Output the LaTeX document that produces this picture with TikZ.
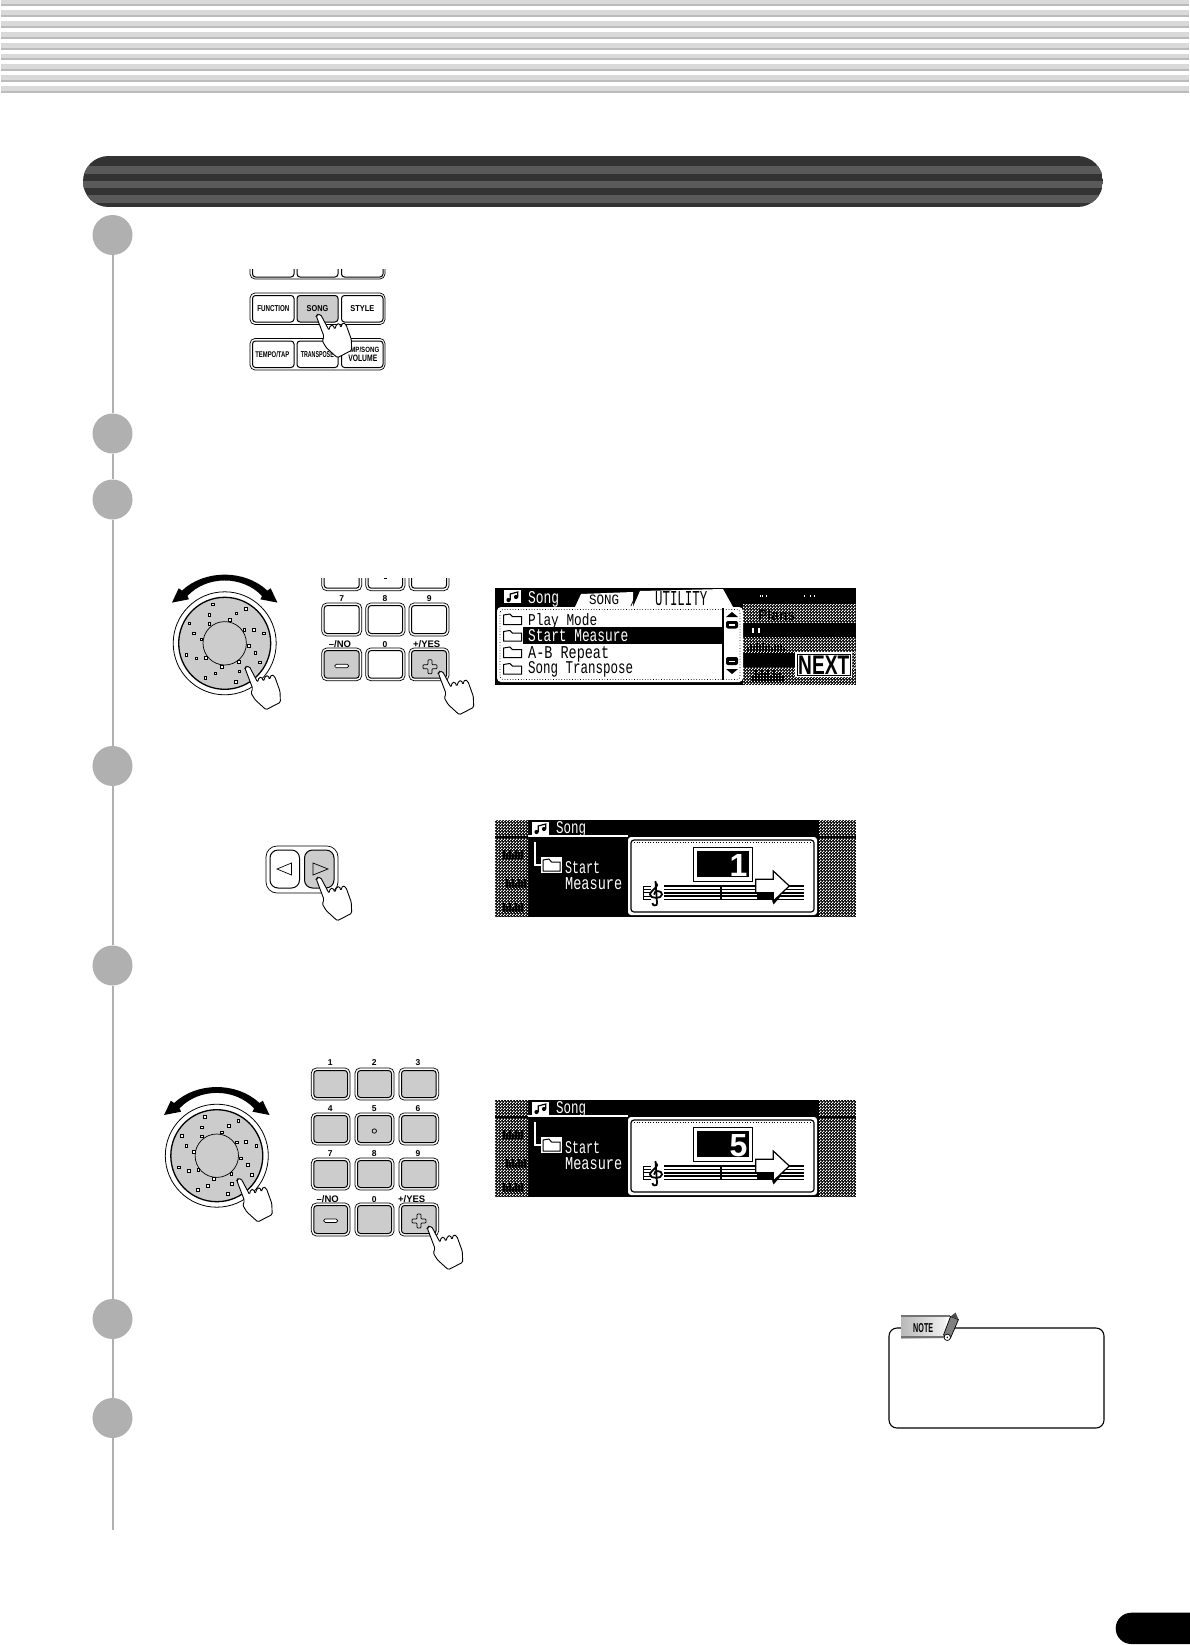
\documentclass[tikz,border=0pt]{standalone}
\usepackage{fontspec}
\usepackage{graphicx}
\setmainfont{Liberation Sans}
\setmonofont{Liberation Mono}
\usetikzlibrary{patterns}
\pgfdeclarepatternformonly{scrdither}{\pgfpointorigin}{\pgfqpoint{2.66pt}{2.66pt}}{\pgfqpoint{2.66pt}{2.66pt}}{%
  \pgfpathrectangle{\pgfpointorigin}{\pgfqpoint{1.33pt}{1.33pt}}%
  \pgfpathrectangle{\pgfqpoint{1.33pt}{1.33pt}}{\pgfqpoint{1.33pt}{1.33pt}}%
  \pgfusepath{fill}}
\definecolor{barlight}{HTML}{D9D9D9}
\definecolor{barshade}{HTML}{BBBBBB}
\definecolor{titledark}{HTML}{333333}
\definecolor{titlegrey}{HTML}{5A5A5A}
\definecolor{stepgrey}{HTML}{B0B0B0}
\definecolor{keygrey}{HTML}{CCCCCC}
\tikzset{
  stepdot/.style={circle,fill=stepgrey,draw=none,minimum size=40pt,inner sep=0pt},
  stemline/.style={draw=stepgrey,line width=2pt},
  keyouter/.style={draw=black,line width=.7pt,fill=white,rounded corners=5pt},
  keyinner/.style={draw=black,line width=1pt,rounded corners=3pt},
  handline/.style={draw=black,line width=.9pt,fill=white,rounded corners=1.3pt},
  keylabel/.style={font=\fontsize{#1}{#1}\selectfont\bfseries,inner sep=0pt,text=black},
  keylabel/.default=8.5,
  capslabel/.style={inner sep=0pt,text=black,font=\bfseries},
  scrlabel/.style={anchor=base west,inner sep=0pt},
  scrright/.style={anchor=base east,inner sep=0pt},
  thinkey/.style={draw=black,line width=.7pt},
}
\newcommand\keycap[5]{%
  \draw[keyouter] (#1,#2) rectangle (#3,#4);
  \draw[keyinner,fill=#5] (#1+2.5,#2+2.5) rectangle (#3-2.5,#4-2.5);}
\newcommand\panelkey[5]{\draw[keyinner,fill=#5] (#1,#2) rectangle (#3,#4);}
\newcommand\handat[2]{%
  \begin{scope}[shift={(#1,#2)}]
    \draw[handline] (-1.7,1.2) -- (-.6,-.4) -- (2.7,-.4) -- (11,15.3) -- (12.2,10.5) -- (15,10) -- (16.7,14.3)
      -- (18.8,9) -- (21.7,8.5) -- (22.7,12.7) -- (24.8,7.5) -- (28,9.5) -- (33.3,24.3) -- (33.7,35.3)
      -- (19.3,42.7) -- (8.3,32.7) -- (4.3,26) -- (6,21.5) -- cycle;
  \end{scope}}
\newcommand\minussign[2]{\draw[thinkey,fill=white,rounded corners=1.5pt] (#1-7,#2-1.7) rectangle (#1+7,#2+1.7);}
\newcommand\plussign[2]{\draw[thinkey,fill=keygrey,rounded corners=.8pt]
  (#1-2,#2-7) -- (#1+2,#2-7) -- (#1+2,#2-2) -- (#1+7,#2-2) -- (#1+7,#2+2) -- (#1+2,#2+2) -- (#1+2,#2+7)
  -- (#1-2,#2+7) -- (#1-2,#2+2) -- (#1-7,#2+2) -- (#1-7,#2-2) -- (#1-2,#2-2) -- cycle;}
\newcommand\jogdial[2]{%
  \begin{scope}[shift={(#1,#2)}]
    \fill[black] (-52.7,-40.7) -- (-46,-55) -- (-42.7,-52.7) .. controls (-20,-74) and (20,-74) .. (42.7,-52.7)
       -- (46,-55) -- (52.7,-40.7) -- (35.7,-44) -- (37.3,-47.3) .. controls (18,-68) and (-18,-68) .. (-37.3,-47.3)
       -- (-35.7,-44) -- cycle;
    \draw[black,line width=.8pt,fill=white] (0,0) circle (51.5);
    \draw[black,line width=1.3pt,fill=keygrey] (0,0) circle (46);
    \draw[black,line width=.7pt,fill=keygrey] (0,0) circle (21.7);
    \foreach \dx/\dy in {217/133,207/165,288/160,317/146,147/190,207/192,268/180,161/220,312/210,340/209,371/220,183/238,325/258,345/278,138/285,168/295,197/293,296/305,358/307,244/320,297/334,225/340,195/353,286/365}{
      \draw[black,line width=.5pt,fill=white] ({(\dx-253)/3-1.3},{(\dy-250)/3-1.3}) rectangle ({(\dx-253)/3+1.3},{(\dy-250)/3+1.3});
    }
  \end{scope}}
\newcommand\scrdith[4]{%
  \fill[pattern=scrdither,pattern color=white] (#1,#2) rectangle (#3,#4);}
\newcommand\scrtext[6]{\node[scrlabel,text=#5] (#1) at (#2,#3) {\resizebox{#4pt}{12pt}{\ttfamily #6}};}
\newcommand\scrcaps[7]{\node[scrlabel,text=#6] (#1) at (#2,#3) {\resizebox{#4pt}{#5pt}{#7}};}
\newcommand\folderglyph[5]{% x y w h fill
  \draw[black,line width=1pt,fill=#5] (#1,#2+#4) -- (#1,#2+1) -- (#1+.35*#3,#2) -- (#1+.5*#3,#2+.25*#4) -- (#1+#3,#2+.25*#4) -- (#1+#3,#2+#4) -- cycle;}
\newcommand\noteglyph[2]{%
  \fill[white] (#1,#2) rectangle (#1+17,#2+13);
  \fill[black] (#1+4.5,#2+10) circle (2.1);
  \fill[black] (#1+12,#2+7) circle (2.1);
  \draw[black,line width=1.2pt] (#1+6.2,#2+10) -- (#1+6.2,#2+4) -- (#1+13.7,#2+2) -- (#1+13.7,#2+7);}
\newcommand\garblemarks[2]{%
  \foreach \gx/\gh in {0/9,3/6,6/9,9/5,12/9,15/7,18/9}{
    \fill[black] (#1+\gx,#2+9-\gh) rectangle (#1+\gx+1.8,#2+9);
  }}
\newcommand\statusscreen[3]{%
  \begin{scope}[shift={(0,#1)}]
    \fill[black] (495,1100) rectangle (856,1197);
    \scrdith{495}{1100}{528}{1115}
    \scrdith{495}{1118}{528}{1197}
    \scrdith{819}{1100}{856}{1115}
    \scrdith{819}{1118}{856}{1197}
    \garblemarks{503}{1130}
    \garblemarks{506}{1159}
    \garblemarks{503}{1183}
    \noteglyph{532}{1102}
    \scrtext{#3song}{556}{1113.5}{30}{white}{Song}
    \draw[white,line width=1.3pt] (528,1116) -- (628,1116);
    \draw[white,line width=1.2pt] (535,1122) -- (535,1145) -- (541,1145);
    \fill[white] (541,1136.5) rectangle (562,1153);
    \folderglyph{543}{1139}{17}{12}{white}
    \scrtext{#3start}{565}{1153.3}{35}{white}{Start}
    \scrtext{#3measure}{565}{1169.3}{57}{white}{Measure}
    \fill[white,rounded corners=3pt] (628,1117) rectangle (817,1195);
    \draw[black,line width=1.2pt,rounded corners=3pt] (631,1120) rectangle (814,1192);
    \draw[black,line width=.7pt,dotted] (634,1122.5) -- (811,1122.5);
    \draw[black,line width=.7pt] (693,1127) rectangle (752,1161);
    \fill[black] (697,1131) rectangle (749,1157);
    \node[scrright,text=white,font=\fontsize{32}{32}\selectfont\bfseries] (#3digit) at (747.5,1156) {#2};
    % staff
    \foreach \sy in {1166,1169.3,1172.7,1176,1179.3}{
      \draw[black,line width=1.6pt] (664,\sy) -- (804,\sy);
      \draw[black,line width=1pt] (643,\sy) -- (651,\sy);
    }
    \draw[black,line width=1pt] (643,1166) -- (643,1179.3);
    \draw[black,line width=1.2pt] (721,1166) -- (721,1179.3);
    \draw[black,line width=1.8pt] (655.5,1161) -- (657,1183) .. controls (657.5,1186.5) and (652,1186) .. (652.5,1183);
    \draw[black,line width=1.8pt] (656,1163) .. controls (661,1165) and (650,1171) .. (650,1174.5)
       .. controls (650,1179) and (662,1179) .. (662,1174.5) .. controls (662,1170) and (654,1170) .. (654,1174.5);
    % arrow
    \fill[black] (757,1172.7) rectangle (775,1180);
    \fill[black] (771,1176) -- (781,1176) -- (773.5,1184.5) -- cycle;
    \draw[black,line width=1.2pt,fill=white] (755.7,1159.3) -- (773.3,1159.3) -- (773.3,1151) -- (789.3,1166)
      -- (773.3,1181) -- (773.3,1172.7) -- (755.7,1172.7) -- cycle;
  \end{scope}}
\begin{document}
\begin{tikzpicture}[x=1pt,y=-1pt]
\useasboundingbox (0,0) rectangle (1189,1645);
% top stripes
\foreach \ya/\yb in {0/6,10/17,21/28,32/39,43/50,54/60,64/71,75/82,86/93}{
  \fill[barlight] (1,\ya) rectangle (1189,\yb-2);
  \fill[barshade] (1,\yb-2) rectangle (1189,\yb);
}
% title bar
\begin{scope}
  \clip[rounded corners=25.4pt] (83,156) rectangle (1103,207);
  \fill[titledark] (83,156) rectangle (1103,207);
  \foreach \ya/\yb in {166/174,181/188,195/203}{
    \fill[titlegrey] (83,\ya) rectangle (1103,\yb);
  }
\end{scope}
% steps
\node[stepdot] (s1) at (112.5,235) {};
\node[stepdot] (s2) at (112.5,433.5) {};
\node[stepdot] (s3) at (112.5,499.5) {};
\node[stepdot] (s4) at (112.5,766) {};
\node[stepdot] (s5) at (112.5,965.5) {};
\node[stepdot] (s6) at (112.5,1319) {};
\node[stepdot] (s7) at (112.5,1418) {};
\coordinate (stemend) at (112.5,1530);
\draw[stemline] (s1) -- (s2);
\draw[stemline] (s2) -- (s3);
\draw[stemline] (s3) -- (s4);
\draw[stemline] (s4) -- (s5);
\draw[stemline] (s5) -- (s6);
\draw[stemline] (s6) -- (s7);
\draw[stemline] (s7) -- (stemend);
% song button group
\begin{scope}
  \clip (245,269.5) rectangle (390,285);
  \draw[keyouter] (250,245) rectangle (385,279);
  \panelkey{252.5}{245}{294}{277}{white}
  \panelkey{297}{245}{338}{277}{white}
  \panelkey{341.5}{245}{383}{277}{white}
\end{scope}
\draw[keyouter] (250,293) rectangle (385,324.5);
\panelkey{252.5}{295.5}{294}{322}{white}
\panelkey{297}{295.5}{338}{322}{keygrey}
\panelkey{341.5}{295.5}{383}{322}{white}
\node[capslabel] (lfunction) at (273.3,308.5) {\resizebox{32pt}{6pt}{FUNCTION}};
\node[capslabel] (lsong) at (317.5,308.5) {\resizebox{21.7pt}{6pt}{SONG}};
\node[capslabel] (lstyle) at (362.3,308.5) {\resizebox{24pt}{6pt}{STYLE}};
\draw[keyouter] (250,338.5) rectangle (385,370);
\panelkey{252.5}{341}{294}{367.5}{white}
\panelkey{297}{341}{338}{367.5}{white}
\panelkey{341.5}{341}{383}{367.5}{white}
\node[capslabel] (ltempo) at (272.3,354.5) {\resizebox{34pt}{6pt}{TEMPO/TAP}};
\node[capslabel] (ltranspose) at (317.3,354.5) {\resizebox{33pt}{6pt}{TRANSPOSE}};
\node[capslabel,anchor=east] (lamp) at (379.5,349.5) {\resizebox{29pt}{5.5pt}{MP/SONG}};
\node[capslabel,anchor=east] (lvolume) at (377.5,358.5) {\resizebox{29pt}{6.5pt}{VOLUME}};
\handat{318}{315}
% dial 1 and keys
\jogdial{224.7}{643.3}
\handat{246.7}{667}
\begin{scope}
  \clip (315,578) rectangle (455,595);
  \keycap{321.7}{555}{361.7}{590.7}{white}
  \keycap{365.7}{555}{405}{590.7}{white}
  \keycap{409}{555}{449}{590.7}{white}
  \draw[black,line width=.8pt] (383.5,578.8) -- (386.5,578.8);
\end{scope}
\keycap{321.7}{603}{361.7}{636}{white}
\keycap{365.7}{603}{405}{636}{white}
\keycap{409}{603}{449}{636}{white}
\keycap{321.7}{648}{361.7}{680.7}{keygrey}
\keycap{365.7}{648}{405}{680.7}{white}
\keycap{409}{648}{449}{680.7}{keygrey}
\node[keylabel] (ka7) at (341.7,599) {7};
\node[keylabel] (ka8) at (385,599) {8};
\node[keylabel] (ka9) at (429.3,599) {9};
\node[keylabel=9.5] (kano) at (340,644.5) {–/NO};
\node[keylabel] (ka0) at (385,644.5) {0};
\node[keylabel=9.5] (kayes) at (426.7,644.5) {+/YES};
\minussign{341.7}{666}
\plussign{430}{666.7}
\handat{440}{672}
% utility screen
\fill[black] (495,588) rectangle (856,685);
\scrdith{743}{604}{856}{622}
\scrdith{743}{637}{856}{653}
\scrdith{743}{667}{856}{685}
\scrdith{852}{652}{856}{668}
\fill[black] (743,653) rectangle (795,667);
\foreach \gx in {750,752,756,794,800,804}{\fill[white] (\gx+10,595) rectangle (\gx+11,597);}
\foreach \gx in {752,758}{\fill[white] (\gx,628) rectangle (\gx+2,633);}
\noteglyph{504}{590}
\scrtext{tsong}{528}{603}{31}{white}{Song}
\fill[white] (575,607) -- (581,594) -- (633,592) -- (633,607) -- cycle;
\fill[white] (633,607) -- (640,591) -- (723,589) -- (733,607) -- cycle;
\draw[black,line width=.7pt] (631,606) -- (636,594);
\scrcaps{ttabsong}{589}{604}{30}{9.5}{black}{\ttfamily SONG}
\scrcaps{ttabutil}{655}{605}{52}{14}{black}{\ttfamily UTILITY}
\fill[white,rounded corners=4pt] (497,607) rectangle (743,682);
\draw[black,line width=.7pt,dotted,rounded corners=3pt] (500,609.5) rectangle (740,679.5);
\fill[black] (523,627) rectangle (722,644);
\draw[black,line width=1.8pt] (723,608) -- (723,680);
\folderglyph{503.5}{614}{18}{10.5}{white}
\folderglyph{503.5}{630.5}{18}{10.5}{white}
\folderglyph{503.5}{647}{18}{10.5}{white}
\folderglyph{503.5}{663.5}{18}{10.5}{white}
\scrtext{tplay}{528}{625}{69}{black}{Play Mode}
\scrtext{tstart}{528}{641.7}{100}{white}{Start Measure}
\scrtext{trepeat}{528}{658}{81}{black}{A-B Repeat}
\scrtext{ttrans}{528}{673}{105}{black}{Song Transpose}
\fill[black] (732,612) -- (738,617) -- (726,617) -- cycle;
\fill[black] (732,674) -- (738,669) -- (726,669) -- cycle;
\fill[black,rounded corners=2pt] (726,621) rectangle (738,628.5);
\fill[black,rounded corners=2pt] (726,657) rectangle (738,665);
\fill[white] (729,624) rectangle (735,625.5);
\fill[white] (729,660.5) rectangle (735,662);
% garbled side entries
\node[scrlabel,text=black,font=\bfseries] (tplans) at (758,620) {\resizebox{37pt}{11pt}{Plans}};
\foreach \gx/\gh in {747/5,750/8,753/6,756/9,759/7,762/9,765/6,768/8,771/5,774/8,777/7,780/8,783/4}{
  \fill[black] (\gx,641+11-\gh) rectangle (\gx+1.5,652);
}
\foreach \gx/\gh in {752/6,755/12,758/8,761/12,764/9,767/12,770/7,773/12,776/8,779/10,782/6}{
  \fill[black] (\gx,671+11-\gh) rectangle (\gx+1.6,682);
}
% NEXT key
\fill[white] (795,652) rectangle (852,677);
\draw[black,line width=.8pt] (797,654) rectangle (850,675);
\scrcaps{tnext}{798}{674}{51}{18.5}{black}{\bfseries NEXT}
% arrow keys
\draw[keyouter,rounded corners=11pt] (266,846) rectangle (338,893);
\draw[keyinner,fill=white,rounded corners=8pt] (270,850) rectangle (299.5,888);
\draw[keyinner,fill=keygrey,rounded corners=8pt] (304.5,850) rectangle (334,888);
\draw[thinkey] (291.5,863) -- (277,869) -- (291.5,875) -- cycle;
\draw[thinkey] (313,863) -- (328,869) -- (313,875) -- cycle;
\handat{318}{878}
% status screens
\statusscreen{-280}{1}{sa}
\statusscreen{0}{5}{sb}
% dial 2 and keypad
\jogdial{216.8}{1155.7}
\handat{238.5}{1179.2}
\foreach \ya/\yb in {1068/1100,1113/1145,1158/1190,1203/1236}{
  \keycap{311.3}{\ya}{350}{\yb}{keygrey}
  \keycap{355}{\ya}{394}{\yb}{keygrey}
  \keycap{399}{\ya}{438.7}{\yb}{keygrey}
}
\node[keylabel] (kb1) at (330.3,1063) {1};
\node[keylabel] (kb2) at (374.3,1063) {2};
\node[keylabel] (kb3) at (418,1063) {3};
\node[keylabel] (kb4) at (330.3,1108.3) {4};
\node[keylabel] (kb5) at (374.3,1108.3) {5};
\node[keylabel] (kb6) at (418,1108.3) {6};
\node[keylabel] (kb7) at (330.3,1153.3) {7};
\node[keylabel] (kb8) at (374.3,1153.3) {8};
\node[keylabel] (kb9) at (418,1153.3) {9};
\node[keylabel=9.5] (kbno) at (327.7,1199.3) {–/NO};
\node[keylabel] (kb0) at (374.3,1199.3) {0};
\node[keylabel=9.5] (kbyes) at (411.7,1199.3) {+/YES};
\minussign{330.7}{1220.7}
\plussign{419}{1221}
\draw[thinkey] (374.3,1131) circle (2.2);
\handat{429}{1227}
% note box
\draw[black,line width=1.1pt,rounded corners=8pt] (889,1328) rectangle (1104,1428);
\shade[left color=gray!55,right color=gray!10] (901,1315) rectangle (946,1338);
\fill[gray!90!black] (901,1315) rectangle (950,1317);
\fill[gray!90!black] (901,1336) rectangle (946,1338);
\scrcaps{tnote}{913}{1332}{20}{9}{black}{\bfseries NOTE}
\draw[black,line width=.7pt,fill=gray] (950.5,1316.5) -- (958.5,1319.5) -- (950.5,1338) -- (943.5,1335) -- cycle;
\fill[gray!60!black] (950.5,1316.5) -- (955.5,1312.5) -- (958.5,1319.5) -- cycle;
\draw[black,line width=.7pt,fill=white] (947.3,1337.3) circle (3.2);
\fill[black] (947.3,1337.3) circle (.8);
% page tab
\fill[black,rounded corners=15.6pt] (1115.7,1612.7) rectangle (1220,1644);
\end{tikzpicture}
\end{document}
